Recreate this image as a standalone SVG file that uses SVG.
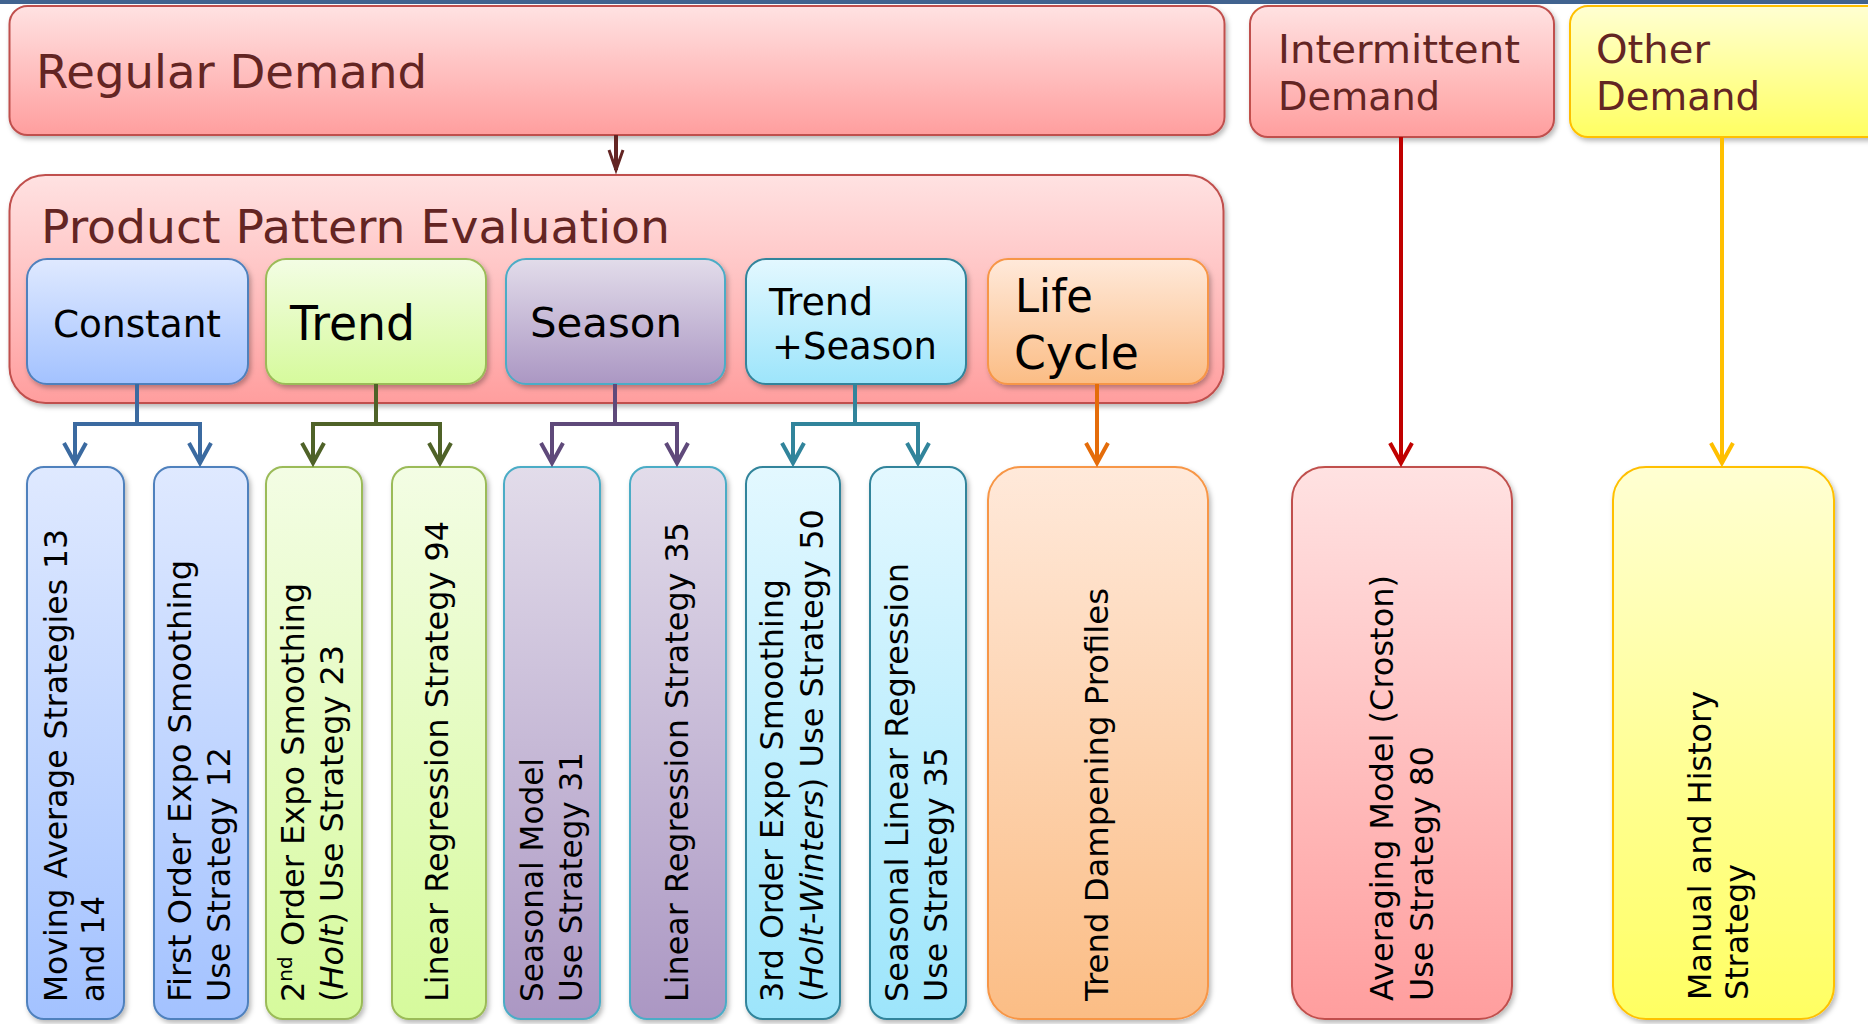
<svg xmlns="http://www.w3.org/2000/svg" width="1868" height="1024" viewBox="0 0 1868 1024">
<defs>
<style>
text{font-family:"DejaVu Sans","Liberation Sans",sans-serif}
.hd{fill:#632523}
.bk{fill:#000}
.vt{font-size:32px;fill:#000}
.it{font-style:italic}
.conn{fill:none;stroke-width:4;stroke-linejoin:miter}
.box{filter:url(#sh)}
</style>
<filter id="sh" x="-10%" y="-10%" width="130%" height="130%">
<feDropShadow dx="2" dy="3" stdDeviation="2.5" flood-color="#000" flood-opacity="0.28"/>
</filter>
<linearGradient id="gRed" x1="0" y1="0" x2="0" y2="1"><stop offset="0" stop-color="#ffe2e2"/><stop offset="1" stop-color="#ff9e9e"/></linearGradient>
<linearGradient id="gYel" x1="0" y1="0" x2="0" y2="1"><stop offset="0" stop-color="#ffffd2"/><stop offset="1" stop-color="#ffff62"/></linearGradient>
<linearGradient id="gBlu" x1="0" y1="0" x2="0" y2="1"><stop offset="0" stop-color="#dfe9ff"/><stop offset="1" stop-color="#a3c2ff"/></linearGradient>
<linearGradient id="gGrn" x1="0" y1="0" x2="0" y2="1"><stop offset="0" stop-color="#f3fde4"/><stop offset="1" stop-color="#d6fa9c"/></linearGradient>
<linearGradient id="gPur" x1="0" y1="0" x2="0" y2="1"><stop offset="0" stop-color="#e2dcea"/><stop offset="1" stop-color="#ab97c3"/></linearGradient>
<linearGradient id="gCyn" x1="0" y1="0" x2="0" y2="1"><stop offset="0" stop-color="#e3f8ff"/><stop offset="1" stop-color="#9de5fb"/></linearGradient>
<linearGradient id="gOrg" x1="0" y1="0" x2="0" y2="1"><stop offset="0" stop-color="#ffe9da"/><stop offset="1" stop-color="#fbbd85"/></linearGradient>
<marker id="aBlu" markerUnits="userSpaceOnUse" markerWidth="40" markerHeight="40" refX="0" refY="0" orient="auto" overflow="visible"><path d="M-20,-11 L0,0 L-20,11" fill="none" stroke="#3b6aa0" stroke-width="4"/></marker>
<marker id="aGrn" markerUnits="userSpaceOnUse" markerWidth="40" markerHeight="40" refX="0" refY="0" orient="auto" overflow="visible"><path d="M-20,-11 L0,0 L-20,11" fill="none" stroke="#4f6228" stroke-width="4"/></marker>
<marker id="aPur" markerUnits="userSpaceOnUse" markerWidth="40" markerHeight="40" refX="0" refY="0" orient="auto" overflow="visible"><path d="M-20,-11 L0,0 L-20,11" fill="none" stroke="#5f497a" stroke-width="4"/></marker>
<marker id="aTea" markerUnits="userSpaceOnUse" markerWidth="40" markerHeight="40" refX="0" refY="0" orient="auto" overflow="visible"><path d="M-20,-11 L0,0 L-20,11" fill="none" stroke="#31849b" stroke-width="4"/></marker>
<marker id="aOrg" markerUnits="userSpaceOnUse" markerWidth="40" markerHeight="40" refX="0" refY="0" orient="auto" overflow="visible"><path d="M-20,-11 L0,0 L-20,11" fill="none" stroke="#e46c0a" stroke-width="4"/></marker>
<marker id="aRed" markerUnits="userSpaceOnUse" markerWidth="40" markerHeight="40" refX="0" refY="0" orient="auto" overflow="visible"><path d="M-20,-11 L0,0 L-20,11" fill="none" stroke="#c00000" stroke-width="4"/></marker>
<marker id="aYel" markerUnits="userSpaceOnUse" markerWidth="40" markerHeight="40" refX="0" refY="0" orient="auto" overflow="visible"><path d="M-20,-11 L0,0 L-20,11" fill="none" stroke="#ffc000" stroke-width="4"/></marker>
<marker id="aDrk" markerUnits="userSpaceOnUse" markerWidth="40" markerHeight="40" refX="0" refY="0" orient="auto" overflow="visible"><path d="M-20,-7 L0,0 L-20,7" fill="none" stroke="#632523" stroke-width="3"/></marker>
</defs>
<rect x="0" y="0" width="1868" height="1024" fill="#fff"/>
<rect x="0" y="0" width="1868" height="4" fill="#41638f"/>

<g id="regular-demand">
<rect class="box" x="9.5" y="6" width="1215" height="129" rx="18" fill="url(#gRed)" stroke="#c0504d" stroke-width="2"/>
<text class="hd" x="36" y="88" font-size="46" textLength="391" lengthAdjust="spacingAndGlyphs">Regular Demand</text>
</g>
<g id="intermittent-demand">
<rect class="box" x="1250" y="6" width="304" height="131" rx="18" fill="url(#gRed)" stroke="#c0504d" stroke-width="2"/>
<text class="hd" font-size="39"><tspan x="1278" y="63" textLength="242" lengthAdjust="spacingAndGlyphs">Intermittent</tspan><tspan x="1278" y="110" textLength="162" lengthAdjust="spacingAndGlyphs">Demand</tspan></text>
</g>
<g id="other-demand">
<rect class="box" x="1570" y="6" width="320" height="131" rx="18" fill="url(#gYel)" stroke="#ffc000" stroke-width="2"/>
<text class="hd" font-size="39"><tspan x="1596" y="63" textLength="114" lengthAdjust="spacingAndGlyphs">Other</tspan><tspan x="1596" y="110" textLength="164" lengthAdjust="spacingAndGlyphs">Demand</tspan></text>
</g>
<g id="product-pattern-evaluation">
<rect class="box" x="9.5" y="175" width="1214" height="228" rx="36" fill="url(#gRed)" stroke="#c0504d" stroke-width="2"/>
<text class="hd" x="41" y="243" font-size="47" textLength="629" lengthAdjust="spacingAndGlyphs">Product Pattern Evaluation</text>
</g>
<g id="constant">
<rect class="box" x="27" y="259" width="221" height="125" rx="20" fill="url(#gBlu)" stroke="#4f81bd" stroke-width="2"/>
<text class="bk" x="53" y="337" font-size="37" textLength="168" lengthAdjust="spacingAndGlyphs">Constant</text>
</g>
<g id="trend">
<rect class="box" x="266" y="259" width="220" height="125" rx="20" fill="url(#gGrn)" stroke="#9bbb59" stroke-width="2"/>
<text class="bk" x="290" y="340" font-size="48" textLength="125" lengthAdjust="spacingAndGlyphs">Trend</text>
</g>
<g id="season">
<rect class="box" x="506" y="259" width="219" height="125" rx="20" fill="url(#gPur)" stroke="#4bacc6" stroke-width="2"/>
<text class="bk" x="530" y="337" font-size="41" textLength="152" lengthAdjust="spacingAndGlyphs">Season</text>
</g>
<g id="trend-season">
<rect class="box" x="746" y="259" width="220" height="125" rx="20" fill="url(#gCyn)" stroke="#31849b" stroke-width="2"/>
<text class="bk" font-size="37"><tspan x="769" y="315" textLength="104" lengthAdjust="spacingAndGlyphs">Trend</tspan><tspan x="772" y="359" textLength="165" lengthAdjust="spacingAndGlyphs">+Season</tspan></text>
</g>
<g id="life-cycle">
<rect class="box" x="988" y="259" width="220" height="125" rx="20" fill="url(#gOrg)" stroke="#f79646" stroke-width="2"/>
<text class="bk" font-size="47"><tspan x="1015" y="312" textLength="78" lengthAdjust="spacingAndGlyphs">Life</tspan><tspan x="1014" y="369" textLength="125" lengthAdjust="spacingAndGlyphs">Cycle</tspan></text>
</g>

<g id="moving-average">
<rect class="box" x="27" y="467" width="97" height="552" rx="17" fill="url(#gBlu)" stroke="#4f81bd" stroke-width="2"/>
<text class="vt" transform="translate(67,1002) rotate(-90)"><tspan x="0" y="0" textLength="473" lengthAdjust="spacingAndGlyphs">Moving Average Strategies 13</tspan><tspan x="0" y="37" textLength="106" lengthAdjust="spacingAndGlyphs">and 14</tspan></text>
</g>
<g id="first-order">
<rect class="box" x="154" y="467" width="94" height="552" rx="17" fill="url(#gBlu)" stroke="#4f81bd" stroke-width="2"/>
<text class="vt" transform="translate(191,1002) rotate(-90)"><tspan x="0" y="0" textLength="442" lengthAdjust="spacingAndGlyphs">First Order Expo  Smoothing</tspan><tspan x="0" y="39" textLength="255" lengthAdjust="spacingAndGlyphs">Use Strategy 12</tspan></text>
</g>
<g id="second-order">
<rect class="box" x="266" y="467" width="96" height="552" rx="17" fill="url(#gGrn)" stroke="#9bbb59" stroke-width="2"/>
<text class="vt" transform="translate(304,1002) rotate(-90)" x="0" y="0">2<tspan dy="-12" font-size="20">nd</tspan><tspan dy="12"> Order Expo Smoothing</tspan></text>
<text class="vt" transform="translate(343,1002) rotate(-90)" x="0" y="0" textLength="357" lengthAdjust="spacingAndGlyphs">(<tspan class="it">Holt</tspan>) Use Strategy 23</text>
</g>
<g id="linear-regression-94">
<rect class="box" x="392" y="467" width="94" height="552" rx="17" fill="url(#gGrn)" stroke="#9bbb59" stroke-width="2"/>
<text class="vt" transform="translate(448,1002) rotate(-90)" x="0" y="0" textLength="481" lengthAdjust="spacingAndGlyphs">Linear Regression Strategy 94</text>
</g>
<g id="seasonal-model">
<rect class="box" x="504" y="467" width="96" height="552" rx="17" fill="url(#gPur)" stroke="#4bacc6" stroke-width="2"/>
<text class="vt" transform="translate(543,1002) rotate(-90)"><tspan x="0" y="0" textLength="244" lengthAdjust="spacingAndGlyphs">Seasonal Model</tspan><tspan x="0" y="39" textLength="250" lengthAdjust="spacingAndGlyphs">Use Strategy 31</tspan></text>
</g>
<g id="linear-regression-35">
<rect class="box" x="630" y="467" width="96" height="552" rx="17" fill="url(#gPur)" stroke="#4bacc6" stroke-width="2"/>
<text class="vt" transform="translate(688,1002) rotate(-90)" x="0" y="0" textLength="480" lengthAdjust="spacingAndGlyphs">Linear Regression Strategy 35</text>
</g>
<g id="third-order">
<rect class="box" x="746" y="467" width="94" height="552" rx="17" fill="url(#gCyn)" stroke="#31849b" stroke-width="2"/>
<text class="vt" transform="translate(783,1002) rotate(-90)" x="0" y="0" textLength="423" lengthAdjust="spacingAndGlyphs">3rd Order Expo  Smoothing</text>
<text class="vt" transform="translate(823,1002) rotate(-90)" x="0" y="0" textLength="493" lengthAdjust="spacingAndGlyphs">(<tspan class="it">Holt-Winters</tspan>) Use Strategy 50</text>
</g>
<g id="seasonal-linear-regression">
<rect class="box" x="870" y="467" width="96" height="552" rx="17" fill="url(#gCyn)" stroke="#31849b" stroke-width="2"/>
<text class="vt" transform="translate(908,1002) rotate(-90)"><tspan x="0" y="0" textLength="439" lengthAdjust="spacingAndGlyphs">Seasonal Linear Regression</tspan><tspan x="0" y="39" textLength="255" lengthAdjust="spacingAndGlyphs">Use Strategy 35</tspan></text>
</g>
<g id="trend-dampening">
<rect class="box" x="988" y="467" width="220" height="552" rx="33" fill="url(#gOrg)" stroke="#f79646" stroke-width="2"/>
<text class="vt" transform="translate(1108,1001) rotate(-90)" x="0" y="0" textLength="413" lengthAdjust="spacingAndGlyphs">Trend Dampening Profiles</text>
</g>
<g id="averaging-model">
<rect class="box" x="1292" y="467" width="220" height="552" rx="33" fill="url(#gRed)" stroke="#c0504d" stroke-width="2"/>
<text class="vt" transform="translate(1393,1001) rotate(-90)"><tspan x="0" y="0" textLength="426" lengthAdjust="spacingAndGlyphs">Averaging Model (Croston)</tspan><tspan x="0" y="40" textLength="255" lengthAdjust="spacingAndGlyphs">Use Strategy 80</tspan></text>
</g>
<g id="manual-history">
<rect class="box" x="1613" y="467" width="221" height="552" rx="33" fill="url(#gYel)" stroke="#ffc000" stroke-width="2"/>
<text class="vt" transform="translate(1711,1000) rotate(-90)"><tspan x="0" y="0" textLength="309" lengthAdjust="spacingAndGlyphs">Manual and History</tspan><tspan x="0" y="37" textLength="136" lengthAdjust="spacingAndGlyphs">Strategy</tspan></text>
</g>

<g id="connectors">
<path class="conn" d="M616,135 V170" stroke="#632523" stroke-width="3" marker-end="url(#aDrk)"/>
<path class="conn" d="M137,384 V424 H75 V463" stroke="#3b6aa0" marker-end="url(#aBlu)"/>
<path class="conn" d="M137,424 H200 V463" stroke="#3b6aa0" marker-end="url(#aBlu)"/>
<path class="conn" d="M376,384 V424 H313 V463" stroke="#4f6228" marker-end="url(#aGrn)"/>
<path class="conn" d="M376,424 H440 V463" stroke="#4f6228" marker-end="url(#aGrn)"/>
<path class="conn" d="M615,384 V424 H552 V463" stroke="#5f497a" marker-end="url(#aPur)"/>
<path class="conn" d="M615,424 H677 V463" stroke="#5f497a" marker-end="url(#aPur)"/>
<path class="conn" d="M855,384 V424 H793 V463" stroke="#31849b" marker-end="url(#aTea)"/>
<path class="conn" d="M855,424 H918 V463" stroke="#31849b" marker-end="url(#aTea)"/>
<path class="conn" d="M1097,384 V463" stroke="#e46c0a" marker-end="url(#aOrg)"/>
<path class="conn" d="M1401,137 V463" stroke="#c00000" marker-end="url(#aRed)"/>
<path class="conn" d="M1722,137 V463" stroke="#ffc000" marker-end="url(#aYel)"/>
</g>
</svg>
